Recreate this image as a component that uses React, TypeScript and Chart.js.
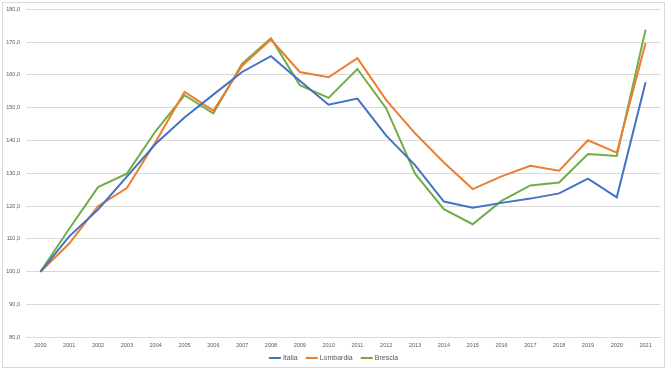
import React, { useEffect, useRef } from "react";
import { Chart, registerables } from "chart.js";

Chart.register(...registerables);

const years = ["2000","2001","2002","2003","2004","2005","2006","2007","2008","2009","2010","2011","2012","2013","2014","2015","2016","2017","2018","2019","2020","2021"];
const italia = [100, 110.8, 119, 129, 139, 147, 154, 160.9, 165.7, 158.2, 150.9, 152.8, 141.5, 132.5, 121.4, 119.5, 121.0, 122.3, 123.9, 128.4, 122.7, 157.8];
const lombardia = [100, 108.6, 120.0, 125.5, 139.6, 154.8, 149.1, 162.8, 170.8, 160.9, 159.3, 165.1, 152.3, 142.2, 133.3, 125.2, 129.1, 132.3, 130.8, 140.1, 136.3, 169.7];
const brescia = [100, 113.1, 125.8, 129.9, 142.9, 153.8, 148.3, 163.4, 171.2, 156.9, 153.0, 161.8, 149.8, 129.9, 119.1, 114.5, 121.6, 126.3, 127.2, 135.9, 135.3, 173.8];

const FONT = "Liberation Sans, Arial, sans-serif";

const borderPlugin = {
  id: "outerBorder",
  beforeDraw(chart: any) {
    const ctx = chart.ctx;
    ctx.save();
    ctx.fillStyle = "#ffffff";
    ctx.fillRect(0, 0, chart.width, chart.height);
    ctx.strokeStyle = "#d9d9d9";
    ctx.lineWidth = 1;
    ctx.strokeRect(2.5, 2.5, chart.width - 5, chart.height - 5);
    ctx.restore();
  },
};

const legendPlugin = {
  id: "bottomLegend",
  afterDraw(chart: any) {
    const ctx = chart.ctx;
    ctx.save();
    ctx.font = `7px ${FONT}`;
    ctx.textBaseline = "middle";
    const lineW = 12, gapText = 2, gapItem = 8;
    const items = chart.data.datasets.map((d: any) => ({
      label: d.label,
      color: d.borderColor,
      w: lineW + gapText + ctx.measureText(d.label).width,
    }));
    const total = items.reduce((s: number, it: any) => s + it.w, 0) + gapItem * (items.length - 1);
    let x = chart.width / 2 - total / 2;
    const y = 358;
    for (const it of items) {
      ctx.strokeStyle = it.color;
      ctx.lineWidth = 2;
      ctx.beginPath();
      ctx.moveTo(x, y);
      ctx.lineTo(x + lineW, y);
      ctx.stroke();
      ctx.fillStyle = "#595959";
      ctx.fillText(it.label, x + lineW + gapText, y);
      x += it.w + gapItem;
    }
    ctx.restore();
  },
};

export default function App() {
  const ref = useRef<HTMLCanvasElement | null>(null);
  useEffect(() => {
    document.body.style.margin = "0";
    const mk = (label: string, data: number[], color: string) => ({
      label,
      data,
      borderColor: color,
      backgroundColor: color,
      borderWidth: 2,
      pointRadius: 0,
      tension: 0,
      fill: false,
    });
    const chart = new Chart(ref.current as HTMLCanvasElement, {
      type: "line",
      data: {
        labels: years,
        datasets: [
          mk("Italia", italia, "#4472C4"),
          mk("Lombardia", lombardia, "#ED7D31"),
          mk("Brescia", brescia, "#70AD47"),
        ],
      },
      plugins: [borderPlugin, legendPlugin],
      options: {
        animation: false,
        responsive: false,
        maintainAspectRatio: false,
        layout: { padding: { left: 0, right: 7, top: 8, bottom: 16 } },
        plugins: {
          tooltip: { enabled: false },
          legend: { display: false },
        },
        scales: {
          x: {
            offset: true,
            grid: { display: false, drawTicks: false },
            border: { color: "#d9d9d9" },
            ticks: {
              color: "#595959",
              padding: 5,
              maxRotation: 0,
              autoSkip: false,
              font: { family: FONT, size: 5.5 },
            },
          },
          y: {
            min: 80,
            max: 180,
            afterFit(scale: any) { scale.width = 26; },
            grid: { color: "#d9d9d9", drawTicks: false },
            border: { display: false },
            ticks: {
              stepSize: 10,
              color: "#595959",
              padding: 6,
              font: { family: FONT, size: 5.5 },
              callback: (v: any) => Number(v).toFixed(1).replace(".", ","),
            },
          },
        },
      },
    } as any);
    return () => chart.destroy();
  }, []);
  return (
    <div style={{ position: "absolute", left: 0, top: 0, width: 667, height: 370 }}>
      <canvas ref={ref} width={667} height={370} style={{ width: 667, height: 370 }} />
    </div>
  );
}
